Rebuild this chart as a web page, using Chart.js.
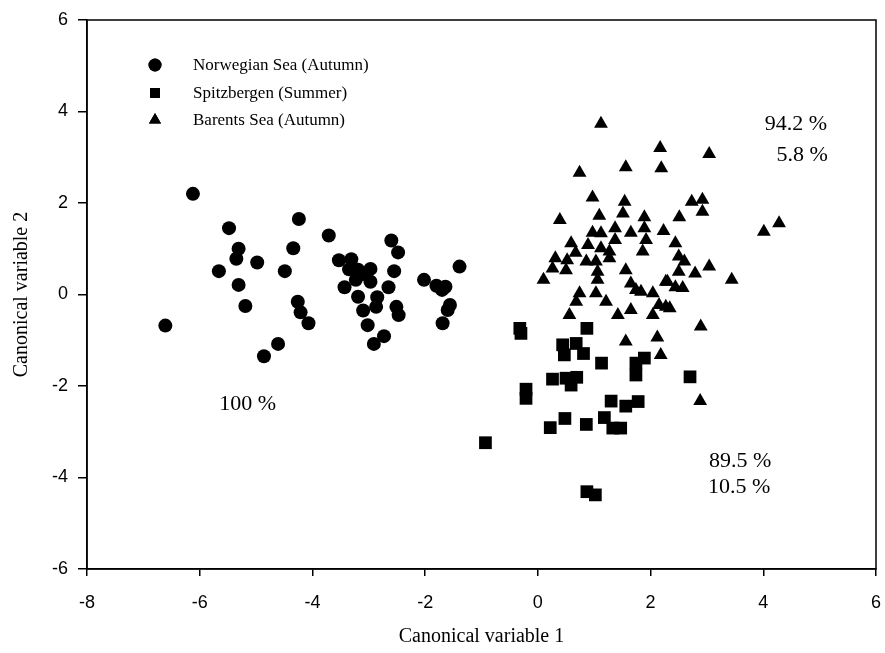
<!DOCTYPE html>
<html>
<head>
<meta charset="utf-8">
<title>Canonical variables</title>
<script src="https://cdn.jsdelivr.net/npm/chart.js@4.4.1/dist/chart.umd.min.js"></script>
<style>
    html, body { margin: 0; padding: 0; background: #fff; }
    #box { width: 885px; height: 653px; }
</style>
</head>
<body>
<div id="box"><canvas id="grafico"></canvas></div>
<script>
// Norwegian Sea (Autumn)
var norwegianX = [-6.12, -5.48, -4.24, -5.31, -5.35, -4.98, -4.34, -5.66, -4.49, -5.31, -5.19, -4.26, -4.21, -4.07, -6.61, -4.61, -4.86,
    -3.71, -2.60, -2.48, -3.53, -3.31, -3.19, -2.97, -3.23, -2.55, -3.43, -2.97, -2.65, -3.19, -2.85, -3.10, -2.87, -2.51, -2.47, -3.02, -2.73, -2.91,
    -3.10, -3.35, -2.02, -1.80, -1.64, -1.70, -1.39, -1.56, -1.60, -1.69];
var norwegianY = [2.20, 1.45, 1.65, 1.00, 0.78, 0.70, 1.01, 0.51, 0.51, 0.21, -0.25, -0.16, -0.39, -0.63, -0.68, -1.08, -1.35,
    1.29, 1.18, 0.92, 0.75, 0.77, 0.54, 0.56, 0.32, 0.51, 0.16, 0.28, 0.16, -0.05, -0.06, -0.35, -0.27, -0.27, -0.45, -0.67, -0.91, -1.08,
    0.45, 0.55, 0.32, 0.19, 0.17, 0.10, 0.61, -0.23, -0.34, -0.63];

// Spitzbergen (Summer)
var spitzX = [-0.32, -0.30, 0.87, 0.44, 0.68, 0.47, 0.81, 1.13, 1.74, 1.89, 1.74, 0.26, 0.50, 0.69, 0.59, 2.70,
    -0.21, -0.21, 1.30, 1.56, 1.78, 0.48, 0.22, 0.86, 1.18, 1.33, 1.47, -0.93, 0.87, 1.02];
var spitzY = [-0.74, -0.85, -0.74, -1.10, -1.07, -1.32, -1.29, -1.50, -1.50, -1.39, -1.76, -1.85, -1.83, -1.81, -1.98, -1.80,
    -2.07, -2.27, -2.33, -2.44, -2.34, -2.71, -2.91, -2.84, -2.69, -2.92, -2.92, -3.24, -4.31, -4.38];

// Barents Sea (Autumn)
var barentsX = [1.12, 2.17, 1.56, 2.19, 0.74, 0.97, 1.54, 1.51, 0.39, 1.09, 1.89, 1.89, 2.23, 1.65, 0.97, 1.12, 1.37, 1.37, 1.92, 0.59,
    0.89, 0.67, 1.12, 1.27, 1.86, 0.31, 0.52, 0.86, 1.03, 1.27, 0.26, 0.50, 1.56, 1.06, 1.06, 0.10, 1.65, 1.83, 2.04, 2.27,
    0.74, 1.03, 1.21, 0.68, 0.56, 1.42, 1.65, 2.04, 2.27, 1.74,
    3.04, 2.73, 2.92, 2.92, 2.51, 4.28, 4.01, 2.44, 2.50, 2.60, 2.50, 2.79, 3.04, 3.44, 2.30, 2.44, 2.57, 2.15, 2.34, 2.89,
    2.12, 1.56, 2.18, 2.88];
var barentsY = [3.73, 3.20, 2.78, 2.76, 2.66, 2.12, 2.03, 1.77, 1.63, 1.72, 1.69, 1.45, 1.39, 1.35, 1.35, 1.34, 1.45, 1.19, 1.19, 1.12,
    1.08, 0.91, 1.01, 0.94, 0.94, 0.79, 0.75, 0.72, 0.72, 0.79, 0.57, 0.53, 0.53, 0.50, 0.32, 0.32, 0.24, 0.06, 0.03, 0.28,
    0.03, 0.03, -0.16, -0.16, -0.45, -0.45, -0.34, -0.45, -0.27, 0.10,
    3.07, 2.03, 2.07, 1.81, 1.69, 1.56, 1.37, 1.12, 0.83, 0.72, 0.50, 0.46, 0.61, 0.32, 0.28, 0.16, 0.14, -0.23, -0.30, -0.70,
    -0.94, -1.03, -1.32, -2.33];

var seriesNames = ['Norwegian Sea (Autumn)', 'Spitzbergen (Summer)', 'Barents Sea (Autumn)'];
var xTicks = [-8, -6, -4, -2, 0, 2, 4, 6];
var yTicks = [-6, -4, -2, 0, 2, 4, 6];

// percentage labels written in the plot
var notaTextos = ['94.2 %', '5.8 %', '100 %', '89.5 %', '10.5 %'];
var notaPosX = [4.58, 4.69, -5.15, 3.59, 3.57];
var notaPosY = [3.73, 3.05, -2.39, -3.64, -4.21];

var serif = "'Liberation Serif', 'Times New Roman', serif";
var sans = "'Liberation Sans', Arial, sans-serif";

function montarPontos(xs, ys) {
    var pontos = [];
    for (var i = 0; i < xs.length; i++) {
        pontos.push({ x: xs[i], y: ys[i] });
    }
    return pontos;
}

// frame round the plot + percentages + legend
var extras = {
    id: 'extras',
    afterDatasetsDraw: function (chart) {
        var ctx = chart.ctx;
        var area = chart.chartArea;
        var sx = chart.scales.x;
        var sy = chart.scales.y;

        ctx.save();
        ctx.strokeStyle = '#000';
        ctx.lineWidth = 1.5;
        ctx.strokeRect(area.left, area.top, area.right - area.left, area.bottom - area.top);

        ctx.fillStyle = '#000';
        ctx.font = '22px ' + serif;
        ctx.textAlign = 'center';
        ctx.textBaseline = 'middle';
        for (var i = 0; i < notaTextos.length; i++) {
            ctx.fillText(notaTextos[i], sx.getPixelForValue(notaPosX[i]), sy.getPixelForValue(notaPosY[i]));
        }

        // legend
        var estilos = [
            { pointStyle: 'circle', radius: 6.5 },
            { pointStyle: 'rect', radius: 7 },
            { pointStyle: 'triangle', radius: 7 }
        ];
        var linhas = [45, 73, 100];
        ctx.font = '17px ' + serif;
        ctx.textAlign = 'left';
        for (var j = 0; j < seriesNames.length; j++) {
            var ly = area.top + linhas[j];
            Chart.helpers.drawPoint(ctx, { pointStyle: estilos[j].pointStyle, radius: estilos[j].radius, rotation: 0, borderWidth: 0 }, area.left + 68, ly);
            ctx.fill();
            ctx.fillText(seriesNames[j], area.left + 106, ly + 1);
        }
        ctx.restore();
    }
};

var dados = {
    datasets: [
        {
            label: seriesNames[0],
            data: montarPontos(norwegianX, norwegianY),
            pointStyle: 'circle',
            pointRadius: 7,
            backgroundColor: '#000',
            borderWidth: 0
        },
        {
            label: seriesNames[1],
            data: montarPontos(spitzX, spitzY),
            pointStyle: 'rect',
            pointRadius: 9,
            backgroundColor: '#000',
            borderWidth: 0
        },
        {
            label: seriesNames[2],
            data: montarPontos(barentsX, barentsY),
            pointStyle: 'triangle',
            pointRadius: 8,
            backgroundColor: '#000',
            borderWidth: 0
        }
    ]
};

const config = {
    type: 'scatter',
    data: dados,
    options: {
        responsive: true,
        maintainAspectRatio: false,
        animation: false,
        events: [],
        layout: { padding: { top: 20, right: 8, left: 0, bottom: 0 } },
        plugins: {
            legend: { display: false },
            tooltip: { enabled: false }
        },
        scales: {
            x: {
                type: 'linear',
                min: -8,
                max: 6,
                afterBuildTicks: function (axis) {
                    axis.ticks = xTicks.map(function (v) { return { value: v }; });
                },
                afterFit: function (axis) {
                    axis.height = 84;
                    axis.paddingLeft = 0;
                    axis.paddingRight = 0;
                },
                ticks: { color: '#000', font: { size: 18, family: sans }, padding: 16, maxRotation: 0 },
                grid: { drawOnChartArea: false, drawTicks: true, tickLength: 7, color: '#000', lineWidth: 1.5 },
                border: { display: true, color: '#000', width: 1.5 },
                title: { display: true, text: 'Canonical variable 1', color: '#000', font: { size: 20, family: serif }, padding: { top: 0, bottom: 4 } }
            },
            y: {
                type: 'linear',
                min: -6,
                max: 6,
                afterBuildTicks: function (axis) {
                    axis.ticks = yTicks.map(function (v) { return { value: v }; });
                },
                afterFit: function (axis) {
                    axis.width = 87;
                    axis.paddingTop = 0;
                    axis.paddingBottom = 0;
                },
                ticks: { color: '#000', font: { size: 18, family: sans }, padding: 10 },
                grid: { drawOnChartArea: false, drawTicks: true, tickLength: 9, color: '#000', lineWidth: 1.5 },
                border: { display: true, color: '#000', width: 1.5 },
                title: { display: true, text: 'Canonical variable 2', color: '#000', font: { size: 20, family: serif }, padding: { top: 10, bottom: 0 } }
            }
        }
    },
    plugins: [extras]
};

let myChart = new Chart(document.getElementById('grafico'), config);
</script>
</body>
</html>
